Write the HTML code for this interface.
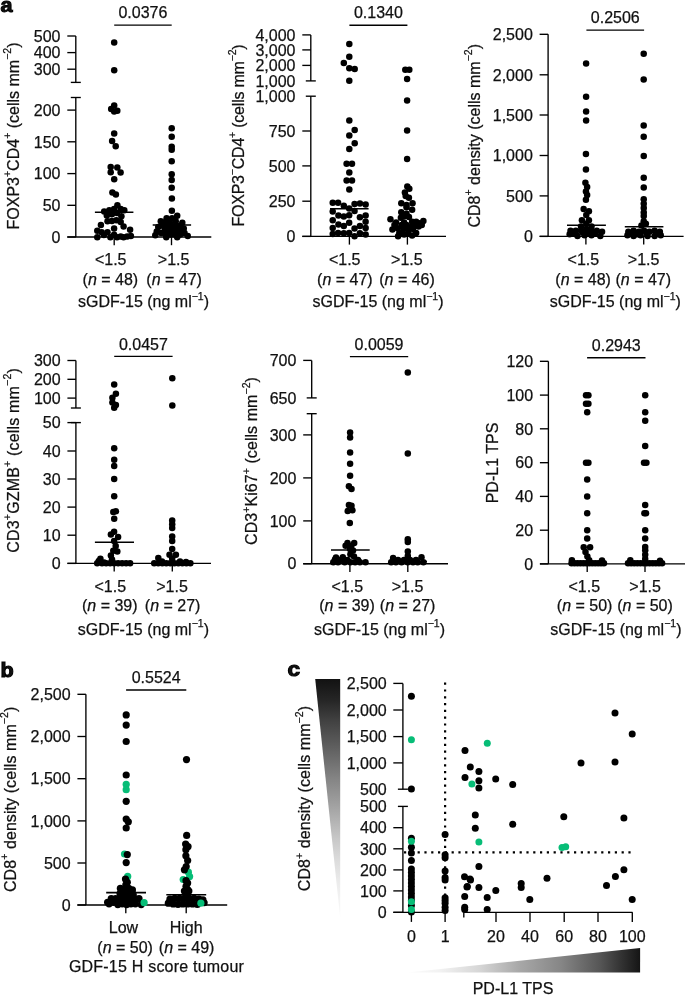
<!DOCTYPE html>
<html><head><meta charset="utf-8"><style>
html,body{margin:0;padding:0;background:#fff;}
body{width:685px;height:995px;overflow:hidden;}
svg{display:block;font-family:"Liberation Sans", sans-serif;will-change:transform;}
text{fill:#111;stroke:#111;stroke-width:0.25px;}
</style></head><body>
<svg width="685" height="995" viewBox="0 0 685 995">
<rect width="685" height="995" fill="#fff"/>
<text x="0.60" y="11.60" text-anchor="start" font-size="19.5" font-weight="bold" textLength="12.0" lengthAdjust="spacingAndGlyphs" style="stroke:#000;stroke-width:1px">a</text>
<line x1="114.20" y1="25.10" x2="171.70" y2="25.10" stroke="#000" stroke-width="1.35" />
<text x="142.95" y="18.30" text-anchor="middle" font-size="16" font-weight="normal" >0.0376</text>
<line x1="75.80" y1="36.00" x2="75.80" y2="82.40" stroke="#000" stroke-width="1.35" />
<line x1="75.80" y1="97.50" x2="75.80" y2="237.00" stroke="#000" stroke-width="1.35" />
<line x1="67.30" y1="36.00" x2="75.80" y2="36.00" stroke="#000" stroke-width="1.35" />
<text x="60.50" y="41.75" text-anchor="end" font-size="16" font-weight="normal" >500</text>
<line x1="67.30" y1="52.60" x2="75.80" y2="52.60" stroke="#000" stroke-width="1.35" />
<text x="60.50" y="58.35" text-anchor="end" font-size="16" font-weight="normal" >400</text>
<line x1="67.30" y1="69.20" x2="75.80" y2="69.20" stroke="#000" stroke-width="1.35" />
<text x="60.50" y="74.95" text-anchor="end" font-size="16" font-weight="normal" >300</text>
<line x1="67.30" y1="110.10" x2="75.80" y2="110.10" stroke="#000" stroke-width="1.35" />
<text x="60.50" y="115.85" text-anchor="end" font-size="16" font-weight="normal" >200</text>
<line x1="67.30" y1="141.80" x2="75.80" y2="141.80" stroke="#000" stroke-width="1.35" />
<text x="60.50" y="147.55" text-anchor="end" font-size="16" font-weight="normal" >150</text>
<line x1="67.30" y1="173.60" x2="75.80" y2="173.60" stroke="#000" stroke-width="1.35" />
<text x="60.50" y="179.35" text-anchor="end" font-size="16" font-weight="normal" >100</text>
<line x1="67.30" y1="205.30" x2="75.80" y2="205.30" stroke="#000" stroke-width="1.35" />
<text x="60.50" y="211.05" text-anchor="end" font-size="16" font-weight="normal" >50</text>
<line x1="67.30" y1="237.00" x2="75.80" y2="237.00" stroke="#000" stroke-width="1.35" />
<text x="60.50" y="242.75" text-anchor="end" font-size="16" font-weight="normal" >0</text>
<line x1="70.80" y1="82.40" x2="80.80" y2="82.40" stroke="#000" stroke-width="1.35" />
<line x1="70.80" y1="97.50" x2="80.80" y2="97.50" stroke="#000" stroke-width="1.35" />
<line x1="67.30" y1="237.00" x2="211.30" y2="237.00" stroke="#000" stroke-width="1.35" />
<line x1="114.20" y1="237.00" x2="114.20" y2="245.20" stroke="#000" stroke-width="1.35" />
<line x1="171.50" y1="237.00" x2="171.50" y2="245.20" stroke="#000" stroke-width="1.35" />
<text transform="translate(18.60,136.00) rotate(-90)" text-anchor="middle" font-size="16">FOXP3<tspan dy="-7.4" font-size="10.5">+</tspan><tspan dy="7.4">CD4</tspan><tspan dy="-7.4" font-size="10.5">+</tspan><tspan dy="7.4"> (cells mm<tspan dy="-7.4" font-size="10.5">−2</tspan><tspan dy="7.4">)</tspan></tspan></text>
<text x="110.70" y="265.00" text-anchor="middle" font-size="16" font-weight="normal" >&lt;1.5</text>
<text x="173.60" y="265.00" text-anchor="middle" font-size="16" font-weight="normal" >&gt;1.5</text>
<text x="110.40" y="284.50" text-anchor="middle" font-size="16" font-weight="normal" >(<tspan font-style="italic">n</tspan> = 48)</text>
<text x="174.10" y="284.50" text-anchor="middle" font-size="16" font-weight="normal" >(<tspan font-style="italic">n</tspan> = 47)</text>
<text x="143.50" y="306.90" text-anchor="middle" font-size="16" font-weight="normal" >sGDF-15 (ng ml<tspan dy="-7.4" font-size="10.5">−1</tspan><tspan dy="7.4">)</tspan></text>
<line x1="94.90" y1="212.20" x2="133.40" y2="212.20" stroke="#000" stroke-width="1.55" />
<line x1="152.70" y1="224.90" x2="191.10" y2="224.90" stroke="#000" stroke-width="1.55" />
<circle cx="114.20" cy="42.40" r="3.25" fill="#000"/>
<circle cx="114.20" cy="70.20" r="3.25" fill="#000"/>
<circle cx="114.20" cy="105.50" r="3.25" fill="#000"/>
<circle cx="111.20" cy="109.00" r="3.25" fill="#000"/>
<circle cx="114.20" cy="111.60" r="3.25" fill="#000"/>
<circle cx="117.30" cy="110.80" r="3.25" fill="#000"/>
<circle cx="114.20" cy="133.50" r="3.25" fill="#000"/>
<circle cx="112.10" cy="140.90" r="3.25" fill="#000"/>
<circle cx="115.70" cy="146.20" r="3.25" fill="#000"/>
<circle cx="110.70" cy="167.00" r="3.25" fill="#000"/>
<circle cx="117.30" cy="167.40" r="3.25" fill="#000"/>
<circle cx="110.70" cy="172.30" r="3.25" fill="#000"/>
<circle cx="120.60" cy="172.60" r="3.25" fill="#000"/>
<circle cx="114.20" cy="179.30" r="3.25" fill="#000"/>
<circle cx="112.40" cy="192.40" r="3.25" fill="#000"/>
<circle cx="115.90" cy="194.50" r="3.25" fill="#000"/>
<circle cx="117.40" cy="205.20" r="3.25" fill="#000"/>
<circle cx="104.20" cy="211.40" r="3.25" fill="#000"/>
<circle cx="109.30" cy="210.30" r="3.25" fill="#000"/>
<circle cx="114.10" cy="208.90" r="3.25" fill="#000"/>
<circle cx="120.70" cy="208.90" r="3.25" fill="#000"/>
<circle cx="124.30" cy="210.30" r="3.25" fill="#000"/>
<circle cx="106.80" cy="215.40" r="3.25" fill="#000"/>
<circle cx="111.90" cy="214.30" r="3.25" fill="#000"/>
<circle cx="117.00" cy="212.90" r="3.25" fill="#000"/>
<circle cx="121.40" cy="216.20" r="3.25" fill="#000"/>
<circle cx="107.50" cy="221.30" r="3.25" fill="#000"/>
<circle cx="111.90" cy="220.90" r="3.25" fill="#000"/>
<circle cx="116.30" cy="220.20" r="3.25" fill="#000"/>
<circle cx="120.70" cy="222.00" r="3.25" fill="#000"/>
<circle cx="100.90" cy="224.90" r="3.25" fill="#000"/>
<circle cx="123.60" cy="226.40" r="3.25" fill="#000"/>
<circle cx="114.10" cy="228.60" r="3.25" fill="#000"/>
<circle cx="130.10" cy="229.70" r="3.25" fill="#000"/>
<circle cx="97.30" cy="230.80" r="3.25" fill="#000"/>
<circle cx="101.70" cy="232.20" r="3.25" fill="#000"/>
<circle cx="107.50" cy="232.20" r="3.25" fill="#000"/>
<circle cx="103.90" cy="235.10" r="3.25" fill="#000"/>
<circle cx="97.30" cy="237.30" r="3.25" fill="#000"/>
<circle cx="110.40" cy="237.30" r="3.25" fill="#000"/>
<circle cx="114.10" cy="234.80" r="3.25" fill="#000"/>
<circle cx="117.00" cy="237.30" r="3.25" fill="#000"/>
<circle cx="120.70" cy="236.60" r="3.25" fill="#000"/>
<circle cx="123.60" cy="237.30" r="3.25" fill="#000"/>
<circle cx="127.20" cy="236.60" r="3.25" fill="#000"/>
<circle cx="130.90" cy="235.90" r="3.25" fill="#000"/>
<circle cx="171.70" cy="128.30" r="3.25" fill="#000"/>
<circle cx="171.70" cy="136.70" r="3.25" fill="#000"/>
<circle cx="171.70" cy="146.70" r="3.25" fill="#000"/>
<circle cx="171.70" cy="149.70" r="3.25" fill="#000"/>
<circle cx="171.70" cy="161.20" r="3.25" fill="#000"/>
<circle cx="171.70" cy="174.30" r="3.25" fill="#000"/>
<circle cx="171.70" cy="180.10" r="3.25" fill="#000"/>
<circle cx="171.70" cy="187.70" r="3.25" fill="#000"/>
<circle cx="171.87" cy="198.50" r="3.25" fill="#000"/>
<circle cx="171.87" cy="210.69" r="3.25" fill="#000"/>
<circle cx="177.20" cy="215.80" r="3.25" fill="#000"/>
<circle cx="166.61" cy="218.36" r="3.25" fill="#000"/>
<circle cx="160.77" cy="221.28" r="3.25" fill="#000"/>
<circle cx="172.09" cy="218.36" r="3.25" fill="#000"/>
<circle cx="182.31" cy="222.74" r="3.25" fill="#000"/>
<circle cx="183.77" cy="228.58" r="3.25" fill="#000"/>
<circle cx="158.22" cy="227.12" r="3.25" fill="#000"/>
<circle cx="156.76" cy="231.50" r="3.25" fill="#000"/>
<circle cx="155.30" cy="235.15" r="3.25" fill="#000"/>
<circle cx="166.25" cy="237.34" r="3.25" fill="#000"/>
<circle cx="177.20" cy="237.34" r="3.25" fill="#000"/>
<circle cx="187.78" cy="235.88" r="3.25" fill="#000"/>
<circle cx="184.50" cy="232.96" r="3.25" fill="#000"/>
<circle cx="162.60" cy="225.66" r="3.25" fill="#000"/>
<circle cx="166.98" cy="225.66" r="3.25" fill="#000"/>
<circle cx="171.36" cy="225.66" r="3.25" fill="#000"/>
<circle cx="175.74" cy="225.66" r="3.25" fill="#000"/>
<circle cx="180.12" cy="225.66" r="3.25" fill="#000"/>
<circle cx="164.79" cy="230.04" r="3.25" fill="#000"/>
<circle cx="169.17" cy="230.04" r="3.25" fill="#000"/>
<circle cx="173.55" cy="230.04" r="3.25" fill="#000"/>
<circle cx="177.93" cy="230.04" r="3.25" fill="#000"/>
<circle cx="182.31" cy="230.04" r="3.25" fill="#000"/>
<circle cx="161.14" cy="232.96" r="3.25" fill="#000"/>
<circle cx="165.52" cy="234.42" r="3.25" fill="#000"/>
<circle cx="170.63" cy="234.42" r="3.25" fill="#000"/>
<circle cx="175.01" cy="234.42" r="3.25" fill="#000"/>
<circle cx="180.12" cy="234.42" r="3.25" fill="#000"/>
<circle cx="169.90" cy="222.74" r="3.25" fill="#000"/>
<circle cx="175.74" cy="221.28" r="3.25" fill="#000"/>
<circle cx="165.52" cy="222.01" r="3.25" fill="#000"/>
<line x1="349.40" y1="25.20" x2="407.40" y2="25.20" stroke="#000" stroke-width="1.35" />
<text x="378.40" y="18.40" text-anchor="middle" font-size="16" font-weight="normal" >0.1340</text>
<line x1="310.80" y1="34.90" x2="310.80" y2="80.90" stroke="#000" stroke-width="1.35" />
<line x1="310.80" y1="96.20" x2="310.80" y2="236.40" stroke="#000" stroke-width="1.35" />
<line x1="302.30" y1="34.90" x2="310.80" y2="34.90" stroke="#000" stroke-width="1.35" />
<text x="295.50" y="40.65" text-anchor="end" font-size="16" font-weight="normal" >4,000</text>
<line x1="302.30" y1="49.90" x2="310.80" y2="49.90" stroke="#000" stroke-width="1.35" />
<text x="295.50" y="55.65" text-anchor="end" font-size="16" font-weight="normal" >3,000</text>
<line x1="302.30" y1="65.40" x2="310.80" y2="65.40" stroke="#000" stroke-width="1.35" />
<text x="295.50" y="71.15" text-anchor="end" font-size="16" font-weight="normal" >2,000</text>
<text x="295.50" y="86.65" text-anchor="end" font-size="16" font-weight="normal" >1,000</text>
<text x="295.50" y="101.95" text-anchor="end" font-size="16" font-weight="normal" >1,000</text>
<line x1="302.30" y1="131.00" x2="310.80" y2="131.00" stroke="#000" stroke-width="1.35" />
<text x="295.50" y="136.75" text-anchor="end" font-size="16" font-weight="normal" >750</text>
<line x1="302.30" y1="165.90" x2="310.80" y2="165.90" stroke="#000" stroke-width="1.35" />
<text x="295.50" y="171.65" text-anchor="end" font-size="16" font-weight="normal" >500</text>
<line x1="302.30" y1="201.20" x2="310.80" y2="201.20" stroke="#000" stroke-width="1.35" />
<text x="295.50" y="206.95" text-anchor="end" font-size="16" font-weight="normal" >250</text>
<line x1="302.30" y1="236.40" x2="310.80" y2="236.40" stroke="#000" stroke-width="1.35" />
<text x="295.50" y="242.15" text-anchor="end" font-size="16" font-weight="normal" >0</text>
<line x1="305.80" y1="80.90" x2="315.80" y2="80.90" stroke="#000" stroke-width="1.35" />
<line x1="305.80" y1="96.20" x2="315.80" y2="96.20" stroke="#000" stroke-width="1.35" />
<line x1="302.30" y1="236.40" x2="446.00" y2="236.40" stroke="#000" stroke-width="1.35" />
<line x1="349.40" y1="236.40" x2="349.40" y2="244.60" stroke="#000" stroke-width="1.35" />
<line x1="407.40" y1="236.40" x2="407.40" y2="244.60" stroke="#000" stroke-width="1.35" />
<text transform="translate(243.70,135.50) rotate(-90)" text-anchor="middle" font-size="16" textLength="182.2">FOXP3<tspan dy="-7.4" font-size="10.5">−</tspan><tspan dy="7.4">CD4</tspan><tspan dy="-7.4" font-size="10.5">+</tspan><tspan dy="7.4"> (cells mm<tspan dy="-7.4" font-size="10.5">−2</tspan><tspan dy="7.4">)</tspan></tspan></text>
<text x="344.70" y="265.00" text-anchor="middle" font-size="16" font-weight="normal" >&lt;1.5</text>
<text x="406.90" y="265.00" text-anchor="middle" font-size="16" font-weight="normal" >&gt;1.5</text>
<text x="344.90" y="284.50" text-anchor="middle" font-size="16" font-weight="normal" >(<tspan font-style="italic">n</tspan> = 47)</text>
<text x="407.00" y="284.50" text-anchor="middle" font-size="16" font-weight="normal" >(<tspan font-style="italic">n</tspan> = 46)</text>
<text x="378.00" y="306.90" text-anchor="middle" font-size="16" font-weight="normal" >sGDF-15 (ng ml<tspan dy="-7.4" font-size="10.5">−1</tspan><tspan dy="7.4">)</tspan></text>
<line x1="330.00" y1="208.80" x2="368.60" y2="208.80" stroke="#000" stroke-width="1.55" />
<circle cx="349.30" cy="44.00" r="3.25" fill="#000"/>
<circle cx="349.30" cy="56.80" r="3.25" fill="#000"/>
<circle cx="343.80" cy="62.90" r="3.25" fill="#000"/>
<circle cx="349.30" cy="68.20" r="3.25" fill="#000"/>
<circle cx="354.70" cy="68.90" r="3.25" fill="#000"/>
<circle cx="349.30" cy="80.80" r="3.25" fill="#000"/>
<circle cx="349.30" cy="120.50" r="3.25" fill="#000"/>
<circle cx="354.70" cy="130.00" r="3.25" fill="#000"/>
<circle cx="349.30" cy="135.40" r="3.25" fill="#000"/>
<circle cx="354.70" cy="143.30" r="3.25" fill="#000"/>
<circle cx="349.30" cy="148.90" r="3.25" fill="#000"/>
<circle cx="346.60" cy="163.80" r="3.25" fill="#000"/>
<circle cx="352.00" cy="163.80" r="3.25" fill="#000"/>
<circle cx="349.30" cy="172.60" r="3.25" fill="#000"/>
<circle cx="346.60" cy="180.40" r="3.25" fill="#000"/>
<circle cx="352.00" cy="180.40" r="3.25" fill="#000"/>
<circle cx="349.30" cy="189.60" r="3.25" fill="#000"/>
<circle cx="332.72" cy="202.72" r="3.25" fill="#000"/>
<circle cx="338.09" cy="202.72" r="3.25" fill="#000"/>
<circle cx="354.54" cy="204.07" r="3.25" fill="#000"/>
<circle cx="359.92" cy="203.39" r="3.25" fill="#000"/>
<circle cx="365.62" cy="204.40" r="3.25" fill="#000"/>
<circle cx="343.80" cy="205.75" r="3.25" fill="#000"/>
<circle cx="349.17" cy="208.43" r="3.25" fill="#000"/>
<circle cx="354.54" cy="211.12" r="3.25" fill="#000"/>
<circle cx="332.72" cy="211.45" r="3.25" fill="#000"/>
<circle cx="338.42" cy="215.48" r="3.25" fill="#000"/>
<circle cx="343.80" cy="216.49" r="3.25" fill="#000"/>
<circle cx="349.17" cy="215.15" r="3.25" fill="#000"/>
<circle cx="359.92" cy="217.16" r="3.25" fill="#000"/>
<circle cx="365.62" cy="215.48" r="3.25" fill="#000"/>
<circle cx="332.72" cy="220.18" r="3.25" fill="#000"/>
<circle cx="365.62" cy="221.86" r="3.25" fill="#000"/>
<circle cx="338.42" cy="224.55" r="3.25" fill="#000"/>
<circle cx="343.80" cy="225.89" r="3.25" fill="#000"/>
<circle cx="349.17" cy="222.87" r="3.25" fill="#000"/>
<circle cx="332.72" cy="227.91" r="3.25" fill="#000"/>
<circle cx="354.54" cy="228.58" r="3.25" fill="#000"/>
<circle cx="359.92" cy="225.89" r="3.25" fill="#000"/>
<circle cx="365.62" cy="227.91" r="3.25" fill="#000"/>
<circle cx="332.72" cy="233.95" r="3.25" fill="#000"/>
<circle cx="338.09" cy="232.94" r="3.25" fill="#000"/>
<circle cx="343.80" cy="233.28" r="3.25" fill="#000"/>
<circle cx="349.17" cy="232.94" r="3.25" fill="#000"/>
<circle cx="354.54" cy="236.30" r="3.25" fill="#000"/>
<circle cx="359.92" cy="233.28" r="3.25" fill="#000"/>
<circle cx="365.62" cy="234.62" r="3.25" fill="#000"/>
<circle cx="405.30" cy="69.80" r="3.25" fill="#000"/>
<circle cx="409.30" cy="69.80" r="3.25" fill="#000"/>
<circle cx="407.10" cy="79.10" r="3.25" fill="#000"/>
<circle cx="407.10" cy="100.60" r="3.25" fill="#000"/>
<circle cx="407.10" cy="130.60" r="3.25" fill="#000"/>
<circle cx="407.10" cy="158.90" r="3.25" fill="#000"/>
<circle cx="407.31" cy="186.43" r="3.25" fill="#000"/>
<circle cx="409.32" cy="188.84" r="3.25" fill="#000"/>
<circle cx="404.90" cy="192.45" r="3.25" fill="#000"/>
<circle cx="405.70" cy="196.06" r="3.25" fill="#000"/>
<circle cx="408.92" cy="197.67" r="3.25" fill="#000"/>
<circle cx="401.29" cy="203.29" r="3.25" fill="#000"/>
<circle cx="412.53" cy="203.29" r="3.25" fill="#000"/>
<circle cx="406.51" cy="204.90" r="3.25" fill="#000"/>
<circle cx="406.51" cy="207.31" r="3.25" fill="#000"/>
<circle cx="412.13" cy="209.72" r="3.25" fill="#000"/>
<circle cx="401.29" cy="212.13" r="3.25" fill="#000"/>
<circle cx="408.92" cy="216.95" r="3.25" fill="#000"/>
<circle cx="390.44" cy="219.36" r="3.25" fill="#000"/>
<circle cx="400.88" cy="217.75" r="3.25" fill="#000"/>
<circle cx="423.37" cy="220.96" r="3.25" fill="#000"/>
<circle cx="416.14" cy="221.77" r="3.25" fill="#000"/>
<circle cx="419.36" cy="223.37" r="3.25" fill="#000"/>
<circle cx="396.06" cy="222.57" r="3.25" fill="#000"/>
<circle cx="404.10" cy="222.57" r="3.25" fill="#000"/>
<circle cx="412.13" cy="221.77" r="3.25" fill="#000"/>
<circle cx="392.45" cy="229.40" r="3.25" fill="#000"/>
<circle cx="397.67" cy="228.19" r="3.25" fill="#000"/>
<circle cx="403.29" cy="229.00" r="3.25" fill="#000"/>
<circle cx="408.11" cy="228.19" r="3.25" fill="#000"/>
<circle cx="412.93" cy="229.00" r="3.25" fill="#000"/>
<circle cx="418.55" cy="226.59" r="3.25" fill="#000"/>
<circle cx="421.77" cy="224.98" r="3.25" fill="#000"/>
<circle cx="398.07" cy="236.22" r="3.25" fill="#000"/>
<circle cx="404.10" cy="234.62" r="3.25" fill="#000"/>
<circle cx="412.13" cy="235.42" r="3.25" fill="#000"/>
<circle cx="416.14" cy="233.01" r="3.25" fill="#000"/>
<circle cx="399.28" cy="233.01" r="3.25" fill="#000"/>
<circle cx="408.11" cy="233.01" r="3.25" fill="#000"/>
<circle cx="401.69" cy="224.98" r="3.25" fill="#000"/>
<circle cx="406.51" cy="224.98" r="3.25" fill="#000"/>
<circle cx="412.13" cy="225.78" r="3.25" fill="#000"/>
<circle cx="416.95" cy="224.98" r="3.25" fill="#000"/>
<circle cx="406.51" cy="213.73" r="3.25" fill="#000"/>
<circle cx="404.10" cy="216.14" r="3.25" fill="#000"/>
<circle cx="394.46" cy="224.98" r="3.25" fill="#000"/>
<line x1="586.40" y1="30.10" x2="644.10" y2="30.10" stroke="#000" stroke-width="1.35" />
<text x="615.25" y="23.30" text-anchor="middle" font-size="16" font-weight="normal" >0.2506</text>
<line x1="548.10" y1="34.30" x2="548.10" y2="236.40" stroke="#000" stroke-width="1.35" />
<line x1="539.60" y1="34.30" x2="548.10" y2="34.30" stroke="#000" stroke-width="1.35" />
<text x="532.80" y="40.05" text-anchor="end" font-size="16" font-weight="normal" >2,500</text>
<line x1="539.60" y1="74.80" x2="548.10" y2="74.80" stroke="#000" stroke-width="1.35" />
<text x="532.80" y="80.55" text-anchor="end" font-size="16" font-weight="normal" >2,000</text>
<line x1="539.60" y1="115.00" x2="548.10" y2="115.00" stroke="#000" stroke-width="1.35" />
<text x="532.80" y="120.75" text-anchor="end" font-size="16" font-weight="normal" >1,500</text>
<line x1="539.60" y1="155.50" x2="548.10" y2="155.50" stroke="#000" stroke-width="1.35" />
<text x="532.80" y="161.25" text-anchor="end" font-size="16" font-weight="normal" >1,000</text>
<line x1="539.60" y1="195.90" x2="548.10" y2="195.90" stroke="#000" stroke-width="1.35" />
<text x="532.80" y="201.65" text-anchor="end" font-size="16" font-weight="normal" >500</text>
<line x1="539.60" y1="236.40" x2="548.10" y2="236.40" stroke="#000" stroke-width="1.35" />
<text x="532.80" y="242.15" text-anchor="end" font-size="16" font-weight="normal" >0</text>
<line x1="539.60" y1="236.40" x2="683.60" y2="236.40" stroke="#000" stroke-width="1.35" />
<line x1="585.90" y1="236.40" x2="585.90" y2="244.60" stroke="#000" stroke-width="1.35" />
<line x1="643.70" y1="236.40" x2="643.70" y2="244.60" stroke="#000" stroke-width="1.35" />
<text transform="translate(479.70,135.75) rotate(-90)" text-anchor="middle" font-size="16">CD8<tspan dy="-7.4" font-size="10.5">+</tspan><tspan dy="7.4"> density</tspan> (cells mm<tspan dy="-7.4" font-size="10.5">−2</tspan><tspan dy="7.4">)</tspan></text>
<text x="583.40" y="265.00" text-anchor="middle" font-size="16" font-weight="normal" >&lt;1.5</text>
<text x="643.60" y="265.00" text-anchor="middle" font-size="16" font-weight="normal" >&gt;1.5</text>
<text x="583.10" y="284.50" text-anchor="middle" font-size="16" font-weight="normal" >(<tspan font-style="italic">n</tspan> = 48)</text>
<text x="643.30" y="284.50" text-anchor="middle" font-size="16" font-weight="normal" >(<tspan font-style="italic">n</tspan> = 47)</text>
<text x="615.30" y="306.90" text-anchor="middle" font-size="16" font-weight="normal" >sGDF-15 (ng ml<tspan dy="-7.4" font-size="10.5">−1</tspan><tspan dy="7.4">)</tspan></text>
<line x1="567.00" y1="225.20" x2="605.90" y2="225.20" stroke="#000" stroke-width="1.55" />
<line x1="624.80" y1="226.80" x2="663.40" y2="226.80" stroke="#000" stroke-width="1.55" />
<circle cx="586.10" cy="63.60" r="3.25" fill="#000"/>
<circle cx="586.10" cy="96.80" r="3.25" fill="#000"/>
<circle cx="586.10" cy="111.60" r="3.25" fill="#000"/>
<circle cx="586.10" cy="120.50" r="3.25" fill="#000"/>
<circle cx="585.93" cy="154.11" r="3.25" fill="#000"/>
<circle cx="585.93" cy="169.53" r="3.25" fill="#000"/>
<circle cx="585.40" cy="182.67" r="3.25" fill="#000"/>
<circle cx="587.15" cy="187.05" r="3.25" fill="#000"/>
<circle cx="585.93" cy="191.43" r="3.25" fill="#000"/>
<circle cx="587.15" cy="194.93" r="3.25" fill="#000"/>
<circle cx="585.93" cy="199.66" r="3.25" fill="#000"/>
<circle cx="583.65" cy="208.95" r="3.25" fill="#000"/>
<circle cx="588.91" cy="211.22" r="3.25" fill="#000"/>
<circle cx="586.28" cy="215.08" r="3.25" fill="#000"/>
<circle cx="581.90" cy="220.33" r="3.25" fill="#000"/>
<circle cx="588.91" cy="220.33" r="3.25" fill="#000"/>
<circle cx="586.28" cy="223.84" r="3.25" fill="#000"/>
<circle cx="581.02" cy="226.46" r="3.25" fill="#000"/>
<circle cx="591.53" cy="226.46" r="3.25" fill="#000"/>
<circle cx="570.51" cy="230.84" r="3.25" fill="#000"/>
<circle cx="575.77" cy="230.84" r="3.25" fill="#000"/>
<circle cx="581.02" cy="230.84" r="3.25" fill="#000"/>
<circle cx="586.28" cy="229.09" r="3.25" fill="#000"/>
<circle cx="591.53" cy="230.84" r="3.25" fill="#000"/>
<circle cx="596.79" cy="230.84" r="3.25" fill="#000"/>
<circle cx="602.05" cy="231.72" r="3.25" fill="#000"/>
<circle cx="569.64" cy="234.35" r="3.25" fill="#000"/>
<circle cx="577.52" cy="236.10" r="3.25" fill="#000"/>
<circle cx="584.53" cy="235.22" r="3.25" fill="#000"/>
<circle cx="591.53" cy="235.22" r="3.25" fill="#000"/>
<circle cx="600.29" cy="236.10" r="3.25" fill="#000"/>
<circle cx="595.04" cy="233.47" r="3.25" fill="#000"/>
<circle cx="573.14" cy="233.47" r="3.25" fill="#000"/>
<circle cx="582.78" cy="232.60" r="3.25" fill="#000"/>
<circle cx="588.03" cy="233.47" r="3.25" fill="#000"/>
<circle cx="643.70" cy="53.80" r="3.25" fill="#000"/>
<circle cx="643.70" cy="79.40" r="3.25" fill="#000"/>
<circle cx="643.70" cy="125.40" r="3.25" fill="#000"/>
<circle cx="643.70" cy="136.70" r="3.25" fill="#000"/>
<circle cx="643.74" cy="156.04" r="3.25" fill="#000"/>
<circle cx="643.74" cy="177.76" r="3.25" fill="#000"/>
<circle cx="643.74" cy="187.40" r="3.25" fill="#000"/>
<circle cx="643.74" cy="199.31" r="3.25" fill="#000"/>
<circle cx="643.74" cy="203.69" r="3.25" fill="#000"/>
<circle cx="643.74" cy="208.07" r="3.25" fill="#000"/>
<circle cx="643.74" cy="212.45" r="3.25" fill="#000"/>
<circle cx="643.74" cy="215.95" r="3.25" fill="#000"/>
<circle cx="643.74" cy="221.21" r="3.25" fill="#000"/>
<circle cx="645.84" cy="223.84" r="3.25" fill="#000"/>
<circle cx="641.46" cy="225.59" r="3.25" fill="#000"/>
<circle cx="628.33" cy="231.72" r="3.25" fill="#000"/>
<circle cx="633.58" cy="230.84" r="3.25" fill="#000"/>
<circle cx="638.84" cy="231.72" r="3.25" fill="#000"/>
<circle cx="644.09" cy="230.84" r="3.25" fill="#000"/>
<circle cx="649.35" cy="231.72" r="3.25" fill="#000"/>
<circle cx="654.60" cy="230.84" r="3.25" fill="#000"/>
<circle cx="659.86" cy="231.72" r="3.25" fill="#000"/>
<circle cx="627.45" cy="235.22" r="3.25" fill="#000"/>
<circle cx="633.58" cy="236.10" r="3.25" fill="#000"/>
<circle cx="640.59" cy="235.22" r="3.25" fill="#000"/>
<circle cx="647.60" cy="236.10" r="3.25" fill="#000"/>
<circle cx="654.60" cy="236.10" r="3.25" fill="#000"/>
<circle cx="660.74" cy="235.22" r="3.25" fill="#000"/>
<circle cx="630.95" cy="233.47" r="3.25" fill="#000"/>
<circle cx="646.72" cy="233.47" r="3.25" fill="#000"/>
<circle cx="657.23" cy="233.47" r="3.25" fill="#000"/>
<circle cx="637.08" cy="234.35" r="3.25" fill="#000"/>
<line x1="114.20" y1="356.30" x2="172.60" y2="356.30" stroke="#000" stroke-width="1.35" />
<text x="143.40" y="349.50" text-anchor="middle" font-size="16" font-weight="normal" >0.0457</text>
<line x1="75.90" y1="360.50" x2="75.90" y2="408.00" stroke="#000" stroke-width="1.35" />
<line x1="75.90" y1="422.60" x2="75.90" y2="563.40" stroke="#000" stroke-width="1.35" />
<line x1="67.40" y1="360.50" x2="75.90" y2="360.50" stroke="#000" stroke-width="1.35" />
<text x="60.60" y="366.25" text-anchor="end" font-size="16" font-weight="normal" >300</text>
<line x1="67.40" y1="379.30" x2="75.90" y2="379.30" stroke="#000" stroke-width="1.35" />
<text x="60.60" y="385.05" text-anchor="end" font-size="16" font-weight="normal" >200</text>
<line x1="67.40" y1="398.10" x2="75.90" y2="398.10" stroke="#000" stroke-width="1.35" />
<text x="60.60" y="403.85" text-anchor="end" font-size="16" font-weight="normal" >100</text>
<line x1="67.40" y1="422.60" x2="75.90" y2="422.60" stroke="#000" stroke-width="1.35" />
<text x="60.60" y="428.35" text-anchor="end" font-size="16" font-weight="normal" >50</text>
<line x1="67.40" y1="451.00" x2="75.90" y2="451.00" stroke="#000" stroke-width="1.35" />
<text x="60.60" y="456.75" text-anchor="end" font-size="16" font-weight="normal" >40</text>
<line x1="67.40" y1="479.00" x2="75.90" y2="479.00" stroke="#000" stroke-width="1.35" />
<text x="60.60" y="484.75" text-anchor="end" font-size="16" font-weight="normal" >30</text>
<line x1="67.40" y1="507.10" x2="75.90" y2="507.10" stroke="#000" stroke-width="1.35" />
<text x="60.60" y="512.85" text-anchor="end" font-size="16" font-weight="normal" >20</text>
<line x1="67.40" y1="535.20" x2="75.90" y2="535.20" stroke="#000" stroke-width="1.35" />
<text x="60.60" y="540.95" text-anchor="end" font-size="16" font-weight="normal" >10</text>
<line x1="67.40" y1="563.40" x2="75.90" y2="563.40" stroke="#000" stroke-width="1.35" />
<text x="60.60" y="569.15" text-anchor="end" font-size="16" font-weight="normal" >0</text>
<line x1="70.90" y1="408.00" x2="80.90" y2="408.00" stroke="#000" stroke-width="1.35" />
<line x1="70.90" y1="422.60" x2="80.90" y2="422.60" stroke="#000" stroke-width="1.35" />
<line x1="67.40" y1="563.40" x2="211.00" y2="563.40" stroke="#000" stroke-width="1.35" />
<line x1="114.20" y1="563.40" x2="114.20" y2="571.60" stroke="#000" stroke-width="1.35" />
<line x1="172.30" y1="563.40" x2="172.30" y2="571.60" stroke="#000" stroke-width="1.35" />
<text transform="translate(18.70,460.50) rotate(-90)" text-anchor="middle" font-size="16" textLength="184.5">CD3<tspan dy="-7.4" font-size="10.5">+</tspan><tspan dy="7.4">GZMB</tspan><tspan dy="-7.4" font-size="10.5">+</tspan><tspan dy="7.4"> (cells mm<tspan dy="-7.4" font-size="10.5">−2</tspan><tspan dy="7.4">)</tspan></tspan></text>
<text x="110.30" y="591.60" text-anchor="middle" font-size="16" font-weight="normal" >&lt;1.5</text>
<text x="172.00" y="591.60" text-anchor="middle" font-size="16" font-weight="normal" >&gt;1.5</text>
<text x="109.80" y="611.00" text-anchor="middle" font-size="16" font-weight="normal" >(<tspan font-style="italic">n</tspan> = 39)</text>
<text x="172.60" y="611.00" text-anchor="middle" font-size="16" font-weight="normal" >(<tspan font-style="italic">n</tspan> = 27)</text>
<text x="143.40" y="634.70" text-anchor="middle" font-size="16" font-weight="normal" >sGDF-15 (ng ml<tspan dy="-7.4" font-size="10.5">−1</tspan><tspan dy="7.4">)</tspan></text>
<line x1="94.90" y1="542.30" x2="134.00" y2="542.30" stroke="#000" stroke-width="1.55" />
<line x1="153.00" y1="562.20" x2="191.60" y2="562.20" stroke="#000" stroke-width="1.55" />
<circle cx="114.20" cy="384.40" r="3.25" fill="#000"/>
<circle cx="115.90" cy="393.70" r="3.25" fill="#000"/>
<circle cx="112.40" cy="397.70" r="3.25" fill="#000"/>
<circle cx="112.40" cy="402.40" r="3.25" fill="#000"/>
<circle cx="115.90" cy="405.00" r="3.25" fill="#000"/>
<circle cx="114.20" cy="407.70" r="3.25" fill="#000"/>
<circle cx="114.20" cy="448.30" r="3.25" fill="#000"/>
<circle cx="114.20" cy="459.70" r="3.25" fill="#000"/>
<circle cx="114.20" cy="466.10" r="3.25" fill="#000"/>
<circle cx="114.20" cy="478.90" r="3.25" fill="#000"/>
<circle cx="114.20" cy="496.30" r="3.25" fill="#000"/>
<circle cx="113.30" cy="512.00" r="3.25" fill="#000"/>
<circle cx="115.90" cy="511.20" r="3.25" fill="#000"/>
<circle cx="114.20" cy="518.70" r="3.25" fill="#000"/>
<circle cx="114.10" cy="531.70" r="3.25" fill="#000"/>
<circle cx="110.90" cy="534.60" r="3.25" fill="#000"/>
<circle cx="118.10" cy="537.00" r="3.25" fill="#000"/>
<circle cx="114.10" cy="541.10" r="3.25" fill="#000"/>
<circle cx="115.70" cy="545.90" r="3.25" fill="#000"/>
<circle cx="113.30" cy="550.70" r="3.25" fill="#000"/>
<circle cx="117.30" cy="551.50" r="3.25" fill="#000"/>
<circle cx="110.90" cy="555.50" r="3.25" fill="#000"/>
<circle cx="100.40" cy="558.70" r="3.25" fill="#000"/>
<circle cx="98.80" cy="561.10" r="3.25" fill="#000"/>
<circle cx="97.20" cy="563.30" r="3.25" fill="#000"/>
<circle cx="102.00" cy="563.30" r="3.25" fill="#000"/>
<circle cx="106.10" cy="563.30" r="3.25" fill="#000"/>
<circle cx="110.10" cy="563.30" r="3.25" fill="#000"/>
<circle cx="114.10" cy="563.30" r="3.25" fill="#000"/>
<circle cx="118.10" cy="563.30" r="3.25" fill="#000"/>
<circle cx="122.10" cy="563.30" r="3.25" fill="#000"/>
<circle cx="126.10" cy="563.30" r="3.25" fill="#000"/>
<circle cx="130.10" cy="563.30" r="3.25" fill="#000"/>
<circle cx="104.00" cy="562.50" r="3.25" fill="#000"/>
<circle cx="112.00" cy="559.50" r="3.25" fill="#000"/>
<circle cx="172.30" cy="378.20" r="3.25" fill="#000"/>
<circle cx="172.30" cy="405.60" r="3.25" fill="#000"/>
<circle cx="172.20" cy="520.40" r="3.25" fill="#000"/>
<circle cx="172.20" cy="524.20" r="3.25" fill="#000"/>
<circle cx="172.20" cy="528.00" r="3.25" fill="#000"/>
<circle cx="172.20" cy="536.60" r="3.25" fill="#000"/>
<circle cx="172.20" cy="541.10" r="3.25" fill="#000"/>
<circle cx="172.20" cy="549.10" r="3.25" fill="#000"/>
<circle cx="169.50" cy="554.70" r="3.25" fill="#000"/>
<circle cx="175.90" cy="554.70" r="3.25" fill="#000"/>
<circle cx="158.30" cy="557.90" r="3.25" fill="#000"/>
<circle cx="172.20" cy="558.50" r="3.25" fill="#000"/>
<circle cx="154.20" cy="563.20" r="3.25" fill="#000"/>
<circle cx="158.22" cy="563.20" r="3.25" fill="#000"/>
<circle cx="162.24" cy="563.20" r="3.25" fill="#000"/>
<circle cx="166.26" cy="563.20" r="3.25" fill="#000"/>
<circle cx="170.28" cy="563.20" r="3.25" fill="#000"/>
<circle cx="174.30" cy="563.20" r="3.25" fill="#000"/>
<circle cx="178.32" cy="563.20" r="3.25" fill="#000"/>
<circle cx="182.34" cy="563.20" r="3.25" fill="#000"/>
<circle cx="186.36" cy="563.20" r="3.25" fill="#000"/>
<circle cx="190.38" cy="563.20" r="3.25" fill="#000"/>
<circle cx="162.00" cy="561.50" r="3.25" fill="#000"/>
<circle cx="180.00" cy="561.50" r="3.25" fill="#000"/>
<circle cx="186.00" cy="562.00" r="3.25" fill="#000"/>
<line x1="349.90" y1="356.60" x2="408.20" y2="356.60" stroke="#000" stroke-width="1.35" />
<text x="379.05" y="349.80" text-anchor="middle" font-size="16" font-weight="normal" >0.0059</text>
<line x1="311.70" y1="360.40" x2="311.70" y2="397.90" stroke="#000" stroke-width="1.35" />
<line x1="311.70" y1="413.70" x2="311.70" y2="563.70" stroke="#000" stroke-width="1.35" />
<line x1="303.20" y1="360.40" x2="311.70" y2="360.40" stroke="#000" stroke-width="1.35" />
<text x="296.40" y="366.15" text-anchor="end" font-size="16" font-weight="normal" >700</text>
<text x="296.40" y="403.65" text-anchor="end" font-size="16" font-weight="normal" >650</text>
<line x1="303.20" y1="434.90" x2="311.70" y2="434.90" stroke="#000" stroke-width="1.35" />
<text x="296.40" y="440.65" text-anchor="end" font-size="16" font-weight="normal" >300</text>
<line x1="303.20" y1="477.90" x2="311.70" y2="477.90" stroke="#000" stroke-width="1.35" />
<text x="296.40" y="483.65" text-anchor="end" font-size="16" font-weight="normal" >200</text>
<line x1="303.20" y1="520.90" x2="311.70" y2="520.90" stroke="#000" stroke-width="1.35" />
<text x="296.40" y="526.65" text-anchor="end" font-size="16" font-weight="normal" >100</text>
<line x1="303.20" y1="563.70" x2="311.70" y2="563.70" stroke="#000" stroke-width="1.35" />
<text x="296.40" y="569.45" text-anchor="end" font-size="16" font-weight="normal" >0</text>
<line x1="306.70" y1="397.90" x2="316.70" y2="397.90" stroke="#000" stroke-width="1.35" />
<line x1="306.70" y1="413.70" x2="316.70" y2="413.70" stroke="#000" stroke-width="1.35" />
<line x1="303.20" y1="563.70" x2="448.00" y2="563.70" stroke="#000" stroke-width="1.35" />
<line x1="349.90" y1="563.70" x2="349.90" y2="571.90" stroke="#000" stroke-width="1.35" />
<line x1="407.80" y1="563.70" x2="407.80" y2="571.90" stroke="#000" stroke-width="1.35" />
<text transform="translate(257.00,461.00) rotate(-90)" text-anchor="middle" font-size="16" textLength="167.8">CD3<tspan dy="-7.4" font-size="10.5">+</tspan><tspan dy="7.4">Ki67</tspan><tspan dy="-7.4" font-size="10.5">+</tspan><tspan dy="7.4"> (cells mm<tspan dy="-7.4" font-size="10.5">−2</tspan><tspan dy="7.4">)</tspan></tspan></text>
<text x="347.30" y="591.80" text-anchor="middle" font-size="16" font-weight="normal" >&lt;1.5</text>
<text x="407.50" y="591.80" text-anchor="middle" font-size="16" font-weight="normal" >&gt;1.5</text>
<text x="347.00" y="611.20" text-anchor="middle" font-size="16" font-weight="normal" >(<tspan font-style="italic">n</tspan> = 39)</text>
<text x="407.60" y="611.20" text-anchor="middle" font-size="16" font-weight="normal" >(<tspan font-style="italic">n</tspan> = 27)</text>
<text x="379.50" y="634.70" text-anchor="middle" font-size="16" font-weight="normal" >sGDF-15 (ng ml<tspan dy="-7.4" font-size="10.5">−1</tspan><tspan dy="7.4">)</tspan></text>
<line x1="331.00" y1="550.00" x2="369.70" y2="550.00" stroke="#000" stroke-width="1.55" />
<line x1="389.00" y1="561.50" x2="427.00" y2="561.50" stroke="#000" stroke-width="1.55" />
<circle cx="350.10" cy="432.60" r="3.25" fill="#000"/>
<circle cx="350.10" cy="437.50" r="3.25" fill="#000"/>
<circle cx="350.10" cy="452.40" r="3.25" fill="#000"/>
<circle cx="350.10" cy="463.80" r="3.25" fill="#000"/>
<circle cx="350.10" cy="475.70" r="3.25" fill="#000"/>
<circle cx="348.90" cy="486.20" r="3.25" fill="#000"/>
<circle cx="351.50" cy="488.90" r="3.25" fill="#000"/>
<circle cx="348.90" cy="505.00" r="3.25" fill="#000"/>
<circle cx="351.50" cy="505.80" r="3.25" fill="#000"/>
<circle cx="347.70" cy="511.10" r="3.25" fill="#000"/>
<circle cx="352.40" cy="510.20" r="3.25" fill="#000"/>
<circle cx="349.80" cy="523.00" r="3.25" fill="#000"/>
<circle cx="347.50" cy="543.00" r="3.25" fill="#000"/>
<circle cx="354.20" cy="543.00" r="3.25" fill="#000"/>
<circle cx="345.60" cy="545.80" r="3.25" fill="#000"/>
<circle cx="351.30" cy="545.80" r="3.25" fill="#000"/>
<circle cx="350.00" cy="549.00" r="3.25" fill="#000"/>
<circle cx="353.00" cy="550.50" r="3.25" fill="#000"/>
<circle cx="350.40" cy="554.30" r="3.25" fill="#000"/>
<circle cx="336.00" cy="557.50" r="3.25" fill="#000"/>
<circle cx="342.80" cy="557.20" r="3.25" fill="#000"/>
<circle cx="354.00" cy="556.50" r="3.25" fill="#000"/>
<circle cx="335.00" cy="559.50" r="3.25" fill="#000"/>
<circle cx="340.00" cy="560.00" r="3.25" fill="#000"/>
<circle cx="347.50" cy="560.00" r="3.25" fill="#000"/>
<circle cx="358.00" cy="560.00" r="3.25" fill="#000"/>
<circle cx="333.30" cy="562.30" r="3.25" fill="#000"/>
<circle cx="338.00" cy="562.30" r="3.25" fill="#000"/>
<circle cx="344.70" cy="562.30" r="3.25" fill="#000"/>
<circle cx="350.40" cy="562.30" r="3.25" fill="#000"/>
<circle cx="355.10" cy="562.30" r="3.25" fill="#000"/>
<circle cx="359.90" cy="562.30" r="3.25" fill="#000"/>
<circle cx="365.50" cy="562.30" r="3.25" fill="#000"/>
<circle cx="407.80" cy="372.60" r="3.25" fill="#000"/>
<circle cx="407.80" cy="453.60" r="3.25" fill="#000"/>
<circle cx="407.80" cy="539.20" r="3.25" fill="#000"/>
<circle cx="407.80" cy="542.00" r="3.25" fill="#000"/>
<circle cx="407.80" cy="551.50" r="3.25" fill="#000"/>
<circle cx="407.80" cy="555.90" r="3.25" fill="#000"/>
<circle cx="421.50" cy="557.20" r="3.25" fill="#000"/>
<circle cx="393.10" cy="558.10" r="3.25" fill="#000"/>
<circle cx="398.00" cy="560.00" r="3.25" fill="#000"/>
<circle cx="404.00" cy="560.00" r="3.25" fill="#000"/>
<circle cx="410.00" cy="560.00" r="3.25" fill="#000"/>
<circle cx="416.00" cy="560.00" r="3.25" fill="#000"/>
<circle cx="391.20" cy="562.30" r="3.25" fill="#000"/>
<circle cx="395.90" cy="562.30" r="3.25" fill="#000"/>
<circle cx="401.60" cy="562.30" r="3.25" fill="#000"/>
<circle cx="407.70" cy="562.30" r="3.25" fill="#000"/>
<circle cx="413.00" cy="562.30" r="3.25" fill="#000"/>
<circle cx="417.70" cy="562.30" r="3.25" fill="#000"/>
<circle cx="423.40" cy="562.30" r="3.25" fill="#000"/>
<line x1="587.10" y1="357.70" x2="645.50" y2="357.70" stroke="#000" stroke-width="1.35" />
<text x="616.30" y="350.90" text-anchor="middle" font-size="16" font-weight="normal" >0.2943</text>
<line x1="548.40" y1="361.30" x2="548.40" y2="563.90" stroke="#000" stroke-width="1.35" />
<line x1="539.90" y1="361.30" x2="548.40" y2="361.30" stroke="#000" stroke-width="1.35" />
<text x="533.10" y="367.05" text-anchor="end" font-size="16" font-weight="normal" >120</text>
<line x1="539.90" y1="395.10" x2="548.40" y2="395.10" stroke="#000" stroke-width="1.35" />
<text x="533.10" y="400.85" text-anchor="end" font-size="16" font-weight="normal" >100</text>
<line x1="539.90" y1="428.80" x2="548.40" y2="428.80" stroke="#000" stroke-width="1.35" />
<text x="533.10" y="434.55" text-anchor="end" font-size="16" font-weight="normal" >80</text>
<line x1="539.90" y1="462.70" x2="548.40" y2="462.70" stroke="#000" stroke-width="1.35" />
<text x="533.10" y="468.45" text-anchor="end" font-size="16" font-weight="normal" >60</text>
<line x1="539.90" y1="496.40" x2="548.40" y2="496.40" stroke="#000" stroke-width="1.35" />
<text x="533.10" y="502.15" text-anchor="end" font-size="16" font-weight="normal" >40</text>
<line x1="539.90" y1="530.20" x2="548.40" y2="530.20" stroke="#000" stroke-width="1.35" />
<text x="533.10" y="535.95" text-anchor="end" font-size="16" font-weight="normal" >20</text>
<line x1="539.90" y1="563.90" x2="548.40" y2="563.90" stroke="#000" stroke-width="1.35" />
<text x="533.10" y="569.65" text-anchor="end" font-size="16" font-weight="normal" >0</text>
<line x1="539.90" y1="563.90" x2="685.00" y2="563.90" stroke="#000" stroke-width="1.35" />
<line x1="587.20" y1="563.90" x2="587.20" y2="572.10" stroke="#000" stroke-width="1.35" />
<line x1="645.00" y1="563.90" x2="645.00" y2="572.10" stroke="#000" stroke-width="1.35" />
<text transform="translate(498.00,463.00) rotate(-90)" text-anchor="middle" font-size="16">PD-L1 TPS</text>
<text x="584.30" y="591.90" text-anchor="middle" font-size="16" font-weight="normal" >&lt;1.5</text>
<text x="645.10" y="591.90" text-anchor="middle" font-size="16" font-weight="normal" >&gt;1.5</text>
<text x="584.60" y="611.30" text-anchor="middle" font-size="16" font-weight="normal" >(<tspan font-style="italic">n</tspan> = 50)</text>
<text x="645.00" y="611.30" text-anchor="middle" font-size="16" font-weight="normal" >(<tspan font-style="italic">n</tspan> = 50)</text>
<text x="615.90" y="634.70" text-anchor="middle" font-size="16" font-weight="normal" >sGDF-15 (ng ml<tspan dy="-7.4" font-size="10.5">−1</tspan><tspan dy="7.4">)</tspan></text>
<circle cx="586.00" cy="395.35" r="3.25" fill="#000"/>
<circle cx="588.40" cy="395.35" r="3.25" fill="#000"/>
<circle cx="586.00" cy="403.78" r="3.25" fill="#000"/>
<circle cx="588.40" cy="403.78" r="3.25" fill="#000"/>
<circle cx="587.20" cy="412.20" r="3.25" fill="#000"/>
<circle cx="586.00" cy="462.77" r="3.25" fill="#000"/>
<circle cx="588.40" cy="462.77" r="3.25" fill="#000"/>
<circle cx="587.20" cy="479.62" r="3.25" fill="#000"/>
<circle cx="587.20" cy="496.48" r="3.25" fill="#000"/>
<circle cx="587.20" cy="513.34" r="3.25" fill="#000"/>
<circle cx="587.20" cy="530.19" r="3.25" fill="#000"/>
<circle cx="587.20" cy="538.62" r="3.25" fill="#000"/>
<circle cx="583.70" cy="547.20" r="3.25" fill="#000"/>
<circle cx="590.10" cy="547.20" r="3.25" fill="#000"/>
<circle cx="585.50" cy="552.10" r="3.25" fill="#000"/>
<circle cx="587.40" cy="556.60" r="3.25" fill="#000"/>
<circle cx="589.20" cy="560.30" r="3.25" fill="#000"/>
<circle cx="571.90" cy="560.30" r="3.25" fill="#000"/>
<circle cx="602.00" cy="560.50" r="3.25" fill="#000"/>
<circle cx="571.50" cy="563.20" r="3.25" fill="#000"/>
<circle cx="574.45" cy="563.20" r="3.25" fill="#000"/>
<circle cx="577.40" cy="563.20" r="3.25" fill="#000"/>
<circle cx="580.35" cy="563.20" r="3.25" fill="#000"/>
<circle cx="583.30" cy="563.20" r="3.25" fill="#000"/>
<circle cx="586.25" cy="563.20" r="3.25" fill="#000"/>
<circle cx="589.20" cy="563.20" r="3.25" fill="#000"/>
<circle cx="592.15" cy="563.20" r="3.25" fill="#000"/>
<circle cx="595.10" cy="563.20" r="3.25" fill="#000"/>
<circle cx="598.05" cy="563.20" r="3.25" fill="#000"/>
<circle cx="601.00" cy="563.20" r="3.25" fill="#000"/>
<circle cx="603.95" cy="563.20" r="3.25" fill="#000"/>
<circle cx="645.20" cy="395.35" r="3.25" fill="#000"/>
<circle cx="645.20" cy="412.20" r="3.25" fill="#000"/>
<circle cx="645.20" cy="420.63" r="3.25" fill="#000"/>
<circle cx="645.20" cy="445.91" r="3.25" fill="#000"/>
<circle cx="644.00" cy="462.77" r="3.25" fill="#000"/>
<circle cx="646.40" cy="462.77" r="3.25" fill="#000"/>
<circle cx="645.20" cy="504.91" r="3.25" fill="#000"/>
<circle cx="644.40" cy="513.34" r="3.25" fill="#000"/>
<circle cx="646.00" cy="513.34" r="3.25" fill="#000"/>
<circle cx="645.20" cy="530.19" r="3.25" fill="#000"/>
<circle cx="645.20" cy="538.62" r="3.25" fill="#000"/>
<circle cx="645.20" cy="547.04" r="3.25" fill="#000"/>
<circle cx="645.20" cy="550.30" r="3.25" fill="#000"/>
<circle cx="645.20" cy="554.80" r="3.25" fill="#000"/>
<circle cx="630.30" cy="560.30" r="3.25" fill="#000"/>
<circle cx="645.20" cy="559.00" r="3.25" fill="#000"/>
<circle cx="660.00" cy="560.80" r="3.25" fill="#000"/>
<circle cx="628.00" cy="563.20" r="3.25" fill="#000"/>
<circle cx="631.10" cy="563.20" r="3.25" fill="#000"/>
<circle cx="634.20" cy="563.20" r="3.25" fill="#000"/>
<circle cx="637.30" cy="563.20" r="3.25" fill="#000"/>
<circle cx="640.40" cy="563.20" r="3.25" fill="#000"/>
<circle cx="643.50" cy="563.20" r="3.25" fill="#000"/>
<circle cx="646.60" cy="563.20" r="3.25" fill="#000"/>
<circle cx="649.70" cy="563.20" r="3.25" fill="#000"/>
<circle cx="652.80" cy="563.20" r="3.25" fill="#000"/>
<circle cx="655.90" cy="563.20" r="3.25" fill="#000"/>
<circle cx="659.00" cy="563.20" r="3.25" fill="#000"/>
<circle cx="662.10" cy="563.20" r="3.25" fill="#000"/>
<text x="0.60" y="676.50" text-anchor="start" font-size="19.5" font-weight="bold" textLength="13.2" lengthAdjust="spacingAndGlyphs" style="stroke:#000;stroke-width:1px">b</text>
<line x1="126.10" y1="690.00" x2="186.30" y2="690.00" stroke="#000" stroke-width="1.35" />
<text x="156.20" y="683.20" text-anchor="middle" font-size="16" font-weight="normal" >0.5524</text>
<line x1="85.90" y1="694.30" x2="85.90" y2="905.00" stroke="#000" stroke-width="1.35" />
<line x1="77.40" y1="694.30" x2="85.90" y2="694.30" stroke="#000" stroke-width="1.35" />
<text x="70.60" y="700.05" text-anchor="end" font-size="16" font-weight="normal" >2,500</text>
<line x1="77.40" y1="736.50" x2="85.90" y2="736.50" stroke="#000" stroke-width="1.35" />
<text x="70.60" y="742.25" text-anchor="end" font-size="16" font-weight="normal" >2,000</text>
<line x1="77.40" y1="778.70" x2="85.90" y2="778.70" stroke="#000" stroke-width="1.35" />
<text x="70.60" y="784.45" text-anchor="end" font-size="16" font-weight="normal" >1,500</text>
<line x1="77.40" y1="820.90" x2="85.90" y2="820.90" stroke="#000" stroke-width="1.35" />
<text x="70.60" y="826.65" text-anchor="end" font-size="16" font-weight="normal" >1,000</text>
<line x1="77.40" y1="863.00" x2="85.90" y2="863.00" stroke="#000" stroke-width="1.35" />
<text x="70.60" y="868.75" text-anchor="end" font-size="16" font-weight="normal" >500</text>
<line x1="77.40" y1="905.00" x2="85.90" y2="905.00" stroke="#000" stroke-width="1.35" />
<text x="70.60" y="910.75" text-anchor="end" font-size="16" font-weight="normal" >0</text>
<line x1="77.40" y1="905.00" x2="227.20" y2="905.00" stroke="#000" stroke-width="1.35" />
<line x1="125.80" y1="905.00" x2="125.80" y2="913.20" stroke="#000" stroke-width="1.35" />
<line x1="186.20" y1="905.00" x2="186.20" y2="913.20" stroke="#000" stroke-width="1.35" />
<text transform="translate(15.50,799.40) rotate(-90)" text-anchor="middle" font-size="16" textLength="185.3">CD8<tspan dy="-7.4" font-size="10.5">+</tspan><tspan dy="7.4"> density</tspan> (cells mm<tspan dy="-7.4" font-size="10.5">−2</tspan><tspan dy="7.4">)</tspan></text>
<text x="123.50" y="933.10" text-anchor="middle" font-size="16" font-weight="normal" >Low</text>
<text x="186.10" y="933.10" text-anchor="middle" font-size="16" font-weight="normal" >High</text>
<text x="125.10" y="952.60" text-anchor="middle" font-size="16" font-weight="normal" >(<tspan font-style="italic">n</tspan> = 50)</text>
<text x="186.60" y="952.60" text-anchor="middle" font-size="16" font-weight="normal" >(<tspan font-style="italic">n</tspan> = 49)</text>
<text x="156.40" y="972.30" text-anchor="middle" font-size="16" font-weight="normal" textLength="175">GDF-15 H score tumour</text>
<line x1="106.20" y1="892.60" x2="146.00" y2="892.60" stroke="#000" stroke-width="1.55" />
<line x1="166.30" y1="894.70" x2="206.20" y2="894.70" stroke="#000" stroke-width="1.55" />
<circle cx="126.20" cy="784.40" r="3.6" fill="#07bd77"/>
<circle cx="126.20" cy="789.70" r="3.6" fill="#07bd77"/>
<circle cx="124.50" cy="854.00" r="3.6" fill="#07bd77"/>
<circle cx="127.70" cy="876.40" r="3.6" fill="#07bd77"/>
<circle cx="188.40" cy="872.20" r="3.6" fill="#07bd77"/>
<circle cx="189.60" cy="876.60" r="3.6" fill="#07bd77"/>
<circle cx="183.20" cy="879.50" r="3.6" fill="#07bd77"/>
<circle cx="126.20" cy="714.90" r="3.6" fill="#000"/>
<circle cx="126.20" cy="725.10" r="3.6" fill="#000"/>
<circle cx="126.20" cy="741.50" r="3.6" fill="#000"/>
<circle cx="126.20" cy="775.00" r="3.6" fill="#000"/>
<circle cx="126.20" cy="801.30" r="3.6" fill="#000"/>
<circle cx="126.20" cy="819.10" r="3.6" fill="#000"/>
<circle cx="128.30" cy="821.80" r="3.6" fill="#000"/>
<circle cx="126.20" cy="828.00" r="3.6" fill="#000"/>
<circle cx="127.30" cy="854.60" r="3.6" fill="#000"/>
<circle cx="126.20" cy="862.60" r="3.6" fill="#000"/>
<circle cx="125.48" cy="878.98" r="3.6" fill="#000"/>
<circle cx="127.31" cy="882.26" r="3.6" fill="#000"/>
<circle cx="125.85" cy="884.82" r="3.6" fill="#000"/>
<circle cx="120.37" cy="888.47" r="3.6" fill="#000"/>
<circle cx="132.42" cy="889.93" r="3.6" fill="#000"/>
<circle cx="124.39" cy="889.20" r="3.6" fill="#000"/>
<circle cx="128.77" cy="888.47" r="3.6" fill="#000"/>
<circle cx="120.01" cy="893.58" r="3.6" fill="#000"/>
<circle cx="124.39" cy="893.58" r="3.6" fill="#000"/>
<circle cx="128.77" cy="893.58" r="3.6" fill="#000"/>
<circle cx="133.15" cy="894.31" r="3.6" fill="#000"/>
<circle cx="111.25" cy="898.69" r="3.6" fill="#000"/>
<circle cx="115.63" cy="898.69" r="3.6" fill="#000"/>
<circle cx="120.74" cy="897.96" r="3.6" fill="#000"/>
<circle cx="125.12" cy="897.23" r="3.6" fill="#000"/>
<circle cx="129.50" cy="897.23" r="3.6" fill="#000"/>
<circle cx="133.88" cy="897.96" r="3.6" fill="#000"/>
<circle cx="138.99" cy="898.69" r="3.6" fill="#000"/>
<circle cx="109.06" cy="903.80" r="3.6" fill="#000"/>
<circle cx="113.44" cy="902.34" r="3.6" fill="#000"/>
<circle cx="117.82" cy="904.53" r="3.6" fill="#000"/>
<circle cx="122.20" cy="903.80" r="3.6" fill="#000"/>
<circle cx="126.58" cy="904.53" r="3.6" fill="#000"/>
<circle cx="130.96" cy="903.80" r="3.6" fill="#000"/>
<circle cx="135.34" cy="903.80" r="3.6" fill="#000"/>
<circle cx="141.18" cy="904.53" r="3.6" fill="#000"/>
<circle cx="107.60" cy="902.34" r="3.6" fill="#000"/>
<circle cx="122.20" cy="900.88" r="3.6" fill="#000"/>
<circle cx="126.58" cy="900.88" r="3.6" fill="#000"/>
<circle cx="130.96" cy="900.88" r="3.6" fill="#000"/>
<circle cx="117.82" cy="900.88" r="3.6" fill="#000"/>
<circle cx="186.50" cy="759.60" r="3.6" fill="#000"/>
<circle cx="186.68" cy="835.47" r="3.6" fill="#000"/>
<circle cx="185.63" cy="844.07" r="3.6" fill="#000"/>
<circle cx="188.04" cy="846.48" r="3.6" fill="#000"/>
<circle cx="185.87" cy="849.70" r="3.6" fill="#000"/>
<circle cx="185.87" cy="855.73" r="3.6" fill="#000"/>
<circle cx="187.64" cy="860.56" r="3.6" fill="#000"/>
<circle cx="186.19" cy="866.59" r="3.6" fill="#000"/>
<circle cx="184.42" cy="869.80" r="3.6" fill="#000"/>
<circle cx="186.03" cy="880.66" r="3.6" fill="#000"/>
<circle cx="187.64" cy="883.07" r="3.6" fill="#000"/>
<circle cx="186.03" cy="886.29" r="3.6" fill="#000"/>
<circle cx="184.42" cy="891.11" r="3.6" fill="#000"/>
<circle cx="188.85" cy="891.11" r="3.6" fill="#000"/>
<circle cx="169.95" cy="899.15" r="3.6" fill="#000"/>
<circle cx="174.77" cy="898.35" r="3.6" fill="#000"/>
<circle cx="179.60" cy="898.35" r="3.6" fill="#000"/>
<circle cx="184.42" cy="898.35" r="3.6" fill="#000"/>
<circle cx="189.25" cy="898.35" r="3.6" fill="#000"/>
<circle cx="194.07" cy="898.35" r="3.6" fill="#000"/>
<circle cx="198.90" cy="899.15" r="3.6" fill="#000"/>
<circle cx="202.92" cy="899.96" r="3.6" fill="#000"/>
<circle cx="168.34" cy="903.17" r="3.6" fill="#000"/>
<circle cx="173.17" cy="903.98" r="3.6" fill="#000"/>
<circle cx="177.99" cy="904.38" r="3.6" fill="#000"/>
<circle cx="182.82" cy="903.98" r="3.6" fill="#000"/>
<circle cx="187.64" cy="903.98" r="3.6" fill="#000"/>
<circle cx="192.46" cy="903.98" r="3.6" fill="#000"/>
<circle cx="197.29" cy="904.38" r="3.6" fill="#000"/>
<circle cx="204.12" cy="902.77" r="3.6" fill="#000"/>
<circle cx="186.03" cy="894.33" r="3.6" fill="#000"/>
<circle cx="187.64" cy="889.50" r="3.6" fill="#000"/>
<circle cx="144.10" cy="902.70" r="3.6" fill="#07bd77"/>
<circle cx="200.90" cy="903.20" r="3.6" fill="#07bd77"/>
<text x="287.50" y="676.00" text-anchor="start" font-size="19.5" font-weight="bold" textLength="12.6" lengthAdjust="spacingAndGlyphs" style="stroke:#000;stroke-width:1px">c</text>
<defs><linearGradient id="gy" x1="0" y1="0" x2="0" y2="1"><stop offset="0" stop-color="#121212"/><stop offset="0.09" stop-color="#262626"/><stop offset="0.17" stop-color="#404040"/><stop offset="0.26" stop-color="#585858"/><stop offset="0.34" stop-color="#6e6e6e"/><stop offset="0.42" stop-color="#858585"/><stop offset="0.51" stop-color="#9c9c9c"/><stop offset="0.59" stop-color="#b2b2b2"/><stop offset="0.67" stop-color="#c8c8c8"/><stop offset="0.76" stop-color="#dcdcdc"/><stop offset="0.84" stop-color="#eaeaea"/><stop offset="0.92" stop-color="#f3f3f3"/><stop offset="1" stop-color="#fafafa"/></linearGradient><linearGradient id="gx" x1="0" y1="0" x2="1" y2="0"><stop offset="0" stop-color="#fcfcfc"/><stop offset="0.14" stop-color="#f2f2f2"/><stop offset="0.31" stop-color="#d6d6d6"/><stop offset="0.48" stop-color="#a8a8a8"/><stop offset="0.66" stop-color="#868686"/><stop offset="0.83" stop-color="#555555"/><stop offset="0.91" stop-color="#363636"/><stop offset="1" stop-color="#151515"/></linearGradient></defs>
<polygon points="315.2,679 340.2,679 340.2,918" fill="url(#gy)"/>
<polygon points="407.3,972.6 640.1,972.6 640.1,948" fill="url(#gx)"/>
<line x1="402.90" y1="683.40" x2="402.90" y2="789.20" stroke="#000" stroke-width="1.35" />
<line x1="402.90" y1="806.40" x2="402.90" y2="912.30" stroke="#000" stroke-width="1.35" />
<line x1="393.30" y1="683.40" x2="402.90" y2="683.40" stroke="#000" stroke-width="1.35" />
<text x="386.70" y="689.15" text-anchor="end" font-size="16" font-weight="normal" >2,500</text>
<line x1="393.30" y1="710.00" x2="402.90" y2="710.00" stroke="#000" stroke-width="1.35" />
<text x="386.70" y="715.75" text-anchor="end" font-size="16" font-weight="normal" >2,000</text>
<line x1="393.30" y1="736.60" x2="402.90" y2="736.60" stroke="#000" stroke-width="1.35" />
<text x="386.70" y="742.35" text-anchor="end" font-size="16" font-weight="normal" >1,500</text>
<line x1="393.30" y1="762.90" x2="402.90" y2="762.90" stroke="#000" stroke-width="1.35" />
<text x="386.70" y="768.65" text-anchor="end" font-size="16" font-weight="normal" >1,000</text>
<text x="386.70" y="794.95" text-anchor="end" font-size="16" font-weight="normal" >500</text>
<text x="386.70" y="812.15" text-anchor="end" font-size="16" font-weight="normal" >500</text>
<line x1="393.30" y1="827.70" x2="402.90" y2="827.70" stroke="#000" stroke-width="1.35" />
<text x="386.70" y="833.45" text-anchor="end" font-size="16" font-weight="normal" >400</text>
<line x1="393.30" y1="848.80" x2="402.90" y2="848.80" stroke="#000" stroke-width="1.35" />
<text x="386.70" y="854.55" text-anchor="end" font-size="16" font-weight="normal" >300</text>
<line x1="393.30" y1="869.90" x2="402.90" y2="869.90" stroke="#000" stroke-width="1.35" />
<text x="386.70" y="875.65" text-anchor="end" font-size="16" font-weight="normal" >200</text>
<line x1="393.30" y1="890.90" x2="402.90" y2="890.90" stroke="#000" stroke-width="1.35" />
<text x="386.70" y="896.65" text-anchor="end" font-size="16" font-weight="normal" >100</text>
<line x1="393.30" y1="912.30" x2="402.90" y2="912.30" stroke="#000" stroke-width="1.35" />
<text x="386.70" y="918.05" text-anchor="end" font-size="16" font-weight="normal" >0</text>
<line x1="397.90" y1="789.20" x2="407.90" y2="789.20" stroke="#000" stroke-width="1.35" />
<line x1="397.90" y1="806.40" x2="407.90" y2="806.40" stroke="#000" stroke-width="1.35" />
<line x1="393.30" y1="912.30" x2="445.10" y2="912.30" stroke="#000" stroke-width="1.35" />
<line x1="463.80" y1="912.30" x2="632.50" y2="912.30" stroke="#000" stroke-width="1.35" />
<line x1="411.40" y1="912.30" x2="411.40" y2="921.90" stroke="#000" stroke-width="1.35" />
<line x1="445.10" y1="912.30" x2="445.10" y2="921.90" stroke="#000" stroke-width="1.35" />
<line x1="496.00" y1="912.30" x2="496.00" y2="921.90" stroke="#000" stroke-width="1.35" />
<line x1="530.00" y1="912.30" x2="530.00" y2="921.90" stroke="#000" stroke-width="1.35" />
<line x1="564.20" y1="912.30" x2="564.20" y2="921.90" stroke="#000" stroke-width="1.35" />
<line x1="598.00" y1="912.30" x2="598.00" y2="921.90" stroke="#000" stroke-width="1.35" />
<line x1="632.30" y1="912.30" x2="632.30" y2="921.90" stroke="#000" stroke-width="1.35" />
<line x1="463.80" y1="912.30" x2="463.80" y2="917.50" stroke="#000" stroke-width="1.35" />
<text x="411.40" y="941.50" text-anchor="middle" font-size="16" font-weight="normal" >0</text>
<text x="445.10" y="941.50" text-anchor="middle" font-size="16" font-weight="normal" >1</text>
<text x="496.00" y="941.50" text-anchor="middle" font-size="16" font-weight="normal" >20</text>
<text x="530.00" y="941.50" text-anchor="middle" font-size="16" font-weight="normal" >40</text>
<text x="564.20" y="941.50" text-anchor="middle" font-size="16" font-weight="normal" >60</text>
<text x="598.00" y="941.50" text-anchor="middle" font-size="16" font-weight="normal" >80</text>
<text x="632.30" y="941.50" text-anchor="middle" font-size="16" font-weight="normal" >100</text>
<line x1="445.1" y1="682.6" x2="445.1" y2="912" stroke="#000" stroke-width="2.2" stroke-dasharray="2.2 4.6"/>
<line x1="404" y1="852.3" x2="632" y2="852.3" stroke="#000" stroke-width="2.2" stroke-dasharray="2.2 4.6"/>
<text transform="translate(310.10,798.60) rotate(-90)" text-anchor="middle" font-size="16" textLength="185.3">CD8<tspan dy="-7.4" font-size="10.5">+</tspan><tspan dy="7.4"> density</tspan> (cells mm<tspan dy="-7.4" font-size="10.5">−2</tspan><tspan dy="7.4">)</tspan></text>
<text x="513.00" y="993.50" text-anchor="middle" font-size="16" font-weight="normal" >PD-L1 TPS</text>
<circle cx="411.40" cy="696.30" r="3.5" fill="#000"/>
<circle cx="411.40" cy="789.00" r="3.5" fill="#000"/>
<circle cx="411.40" cy="838.30" r="3.5" fill="#000"/>
<circle cx="411.40" cy="847.20" r="3.5" fill="#000"/>
<circle cx="411.40" cy="852.90" r="3.5" fill="#000"/>
<circle cx="411.40" cy="860.50" r="3.5" fill="#000"/>
<circle cx="411.40" cy="869.00" r="3.5" fill="#000"/>
<circle cx="411.40" cy="872.50" r="3.5" fill="#000"/>
<circle cx="411.40" cy="876.00" r="3.5" fill="#000"/>
<circle cx="411.40" cy="879.50" r="3.5" fill="#000"/>
<circle cx="411.40" cy="883.00" r="3.5" fill="#000"/>
<circle cx="411.40" cy="886.50" r="3.5" fill="#000"/>
<circle cx="411.40" cy="890.00" r="3.5" fill="#000"/>
<circle cx="411.40" cy="893.50" r="3.5" fill="#000"/>
<circle cx="411.40" cy="897.00" r="3.5" fill="#000"/>
<circle cx="411.40" cy="900.50" r="3.5" fill="#000"/>
<circle cx="411.40" cy="905.50" r="3.5" fill="#000"/>
<circle cx="411.40" cy="912.00" r="3.5" fill="#000"/>
<circle cx="445.10" cy="834.50" r="3.5" fill="#000"/>
<circle cx="445.10" cy="854.80" r="3.5" fill="#000"/>
<circle cx="445.10" cy="857.70" r="3.5" fill="#000"/>
<circle cx="445.10" cy="870.90" r="3.5" fill="#000"/>
<circle cx="445.10" cy="877.50" r="3.5" fill="#000"/>
<circle cx="445.10" cy="880.00" r="3.5" fill="#000"/>
<circle cx="445.10" cy="897.70" r="3.5" fill="#000"/>
<circle cx="445.10" cy="900.60" r="3.5" fill="#000"/>
<circle cx="445.10" cy="903.30" r="3.5" fill="#000"/>
<circle cx="445.10" cy="907.30" r="3.5" fill="#000"/>
<circle cx="445.10" cy="910.50" r="3.5" fill="#000"/>
<circle cx="465.00" cy="750.60" r="3.5" fill="#000"/>
<circle cx="470.30" cy="766.90" r="3.5" fill="#000"/>
<circle cx="478.90" cy="771.60" r="3.5" fill="#000"/>
<circle cx="465.00" cy="777.40" r="3.5" fill="#000"/>
<circle cx="478.90" cy="780.70" r="3.5" fill="#000"/>
<circle cx="478.90" cy="787.90" r="3.5" fill="#000"/>
<circle cx="495.70" cy="779.00" r="3.5" fill="#000"/>
<circle cx="512.70" cy="784.40" r="3.5" fill="#000"/>
<circle cx="615.00" cy="712.90" r="3.5" fill="#000"/>
<circle cx="632.20" cy="734.10" r="3.5" fill="#000"/>
<circle cx="581.00" cy="762.90" r="3.5" fill="#000"/>
<circle cx="615.00" cy="762.00" r="3.5" fill="#000"/>
<circle cx="475.30" cy="815.10" r="3.5" fill="#000"/>
<circle cx="475.30" cy="828.30" r="3.5" fill="#000"/>
<circle cx="512.70" cy="824.30" r="3.5" fill="#000"/>
<circle cx="563.80" cy="816.70" r="3.5" fill="#000"/>
<circle cx="623.90" cy="817.90" r="3.5" fill="#000"/>
<circle cx="478.90" cy="866.60" r="3.5" fill="#000"/>
<circle cx="464.50" cy="876.80" r="3.5" fill="#000"/>
<circle cx="470.00" cy="878.90" r="3.5" fill="#000"/>
<circle cx="467.00" cy="886.90" r="3.5" fill="#000"/>
<circle cx="478.90" cy="887.50" r="3.5" fill="#000"/>
<circle cx="487.20" cy="897.60" r="3.5" fill="#000"/>
<circle cx="495.80" cy="890.60" r="3.5" fill="#000"/>
<circle cx="521.20" cy="883.50" r="3.5" fill="#000"/>
<circle cx="521.20" cy="887.50" r="3.5" fill="#000"/>
<circle cx="547.00" cy="878.30" r="3.5" fill="#000"/>
<circle cx="606.50" cy="885.60" r="3.5" fill="#000"/>
<circle cx="615.40" cy="876.40" r="3.5" fill="#000"/>
<circle cx="623.90" cy="869.70" r="3.5" fill="#000"/>
<circle cx="632.20" cy="899.40" r="3.5" fill="#000"/>
<circle cx="529.80" cy="899.40" r="3.5" fill="#000"/>
<circle cx="464.70" cy="896.50" r="3.5" fill="#000"/>
<circle cx="464.70" cy="907.30" r="3.5" fill="#000"/>
<circle cx="464.70" cy="909.60" r="3.5" fill="#000"/>
<circle cx="487.20" cy="909.60" r="3.5" fill="#000"/>
<circle cx="467.30" cy="886.40" r="3.5" fill="#000"/>
<circle cx="470.50" cy="880.00" r="3.5" fill="#000"/>
<circle cx="411.40" cy="739.70" r="3.5" fill="#07bd77"/>
<circle cx="411.40" cy="841.20" r="3.5" fill="#07bd77"/>
<circle cx="411.40" cy="901.70" r="3.5" fill="#07bd77"/>
<circle cx="411.40" cy="909.40" r="3.5" fill="#07bd77"/>
<circle cx="487.30" cy="743.20" r="3.5" fill="#07bd77"/>
<circle cx="471.90" cy="783.90" r="3.5" fill="#07bd77"/>
<circle cx="478.90" cy="842.10" r="3.5" fill="#07bd77"/>
<circle cx="562.00" cy="847.60" r="3.5" fill="#07bd77"/>
<circle cx="565.70" cy="846.70" r="3.5" fill="#07bd77"/>
</svg>
</body></html>
